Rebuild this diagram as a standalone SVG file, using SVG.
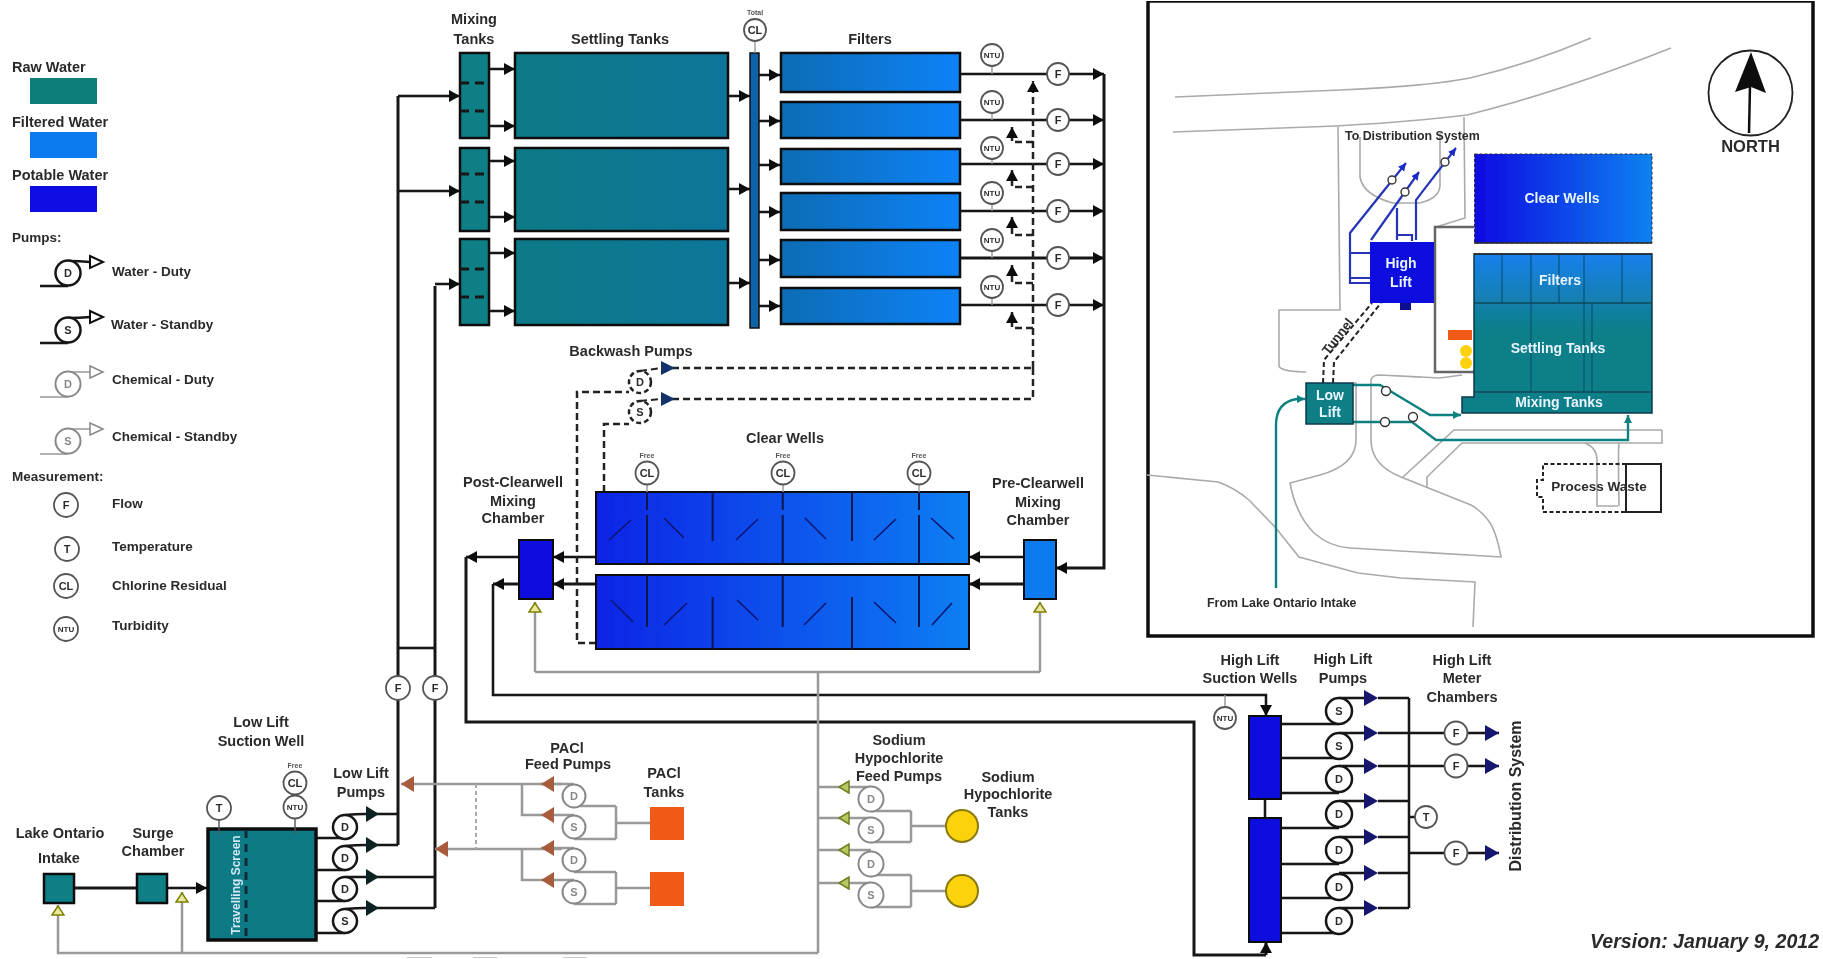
<svg xmlns="http://www.w3.org/2000/svg" width="1823" height="959" viewBox="0 0 1823 959">
<style>
text{font-family:"Liberation Sans",Arial,sans-serif;font-weight:bold;fill:#2c2c2c;font-size:14.5px}
.c{text-anchor:middle}
.s{font-size:13.5px}
.w{fill:#e8f4ff;text-anchor:middle;font-size:14px}
.tiny{font-size:7px;text-anchor:middle;fill:#555}
.in{text-anchor:middle;font-size:11px}
.ntu{text-anchor:middle;font-size:8px}
.gin{text-anchor:middle;font-size:11px;fill:#888}
path:not([fill]){fill:none}
.p{stroke:#161616;stroke-width:3}
.p2{stroke:#161616;stroke-width:2.5}
.d{stroke:#222;stroke-width:2.5;stroke-dasharray:7 4}
.g{stroke:#999;stroke-width:2.5}
.gd{stroke:#aaa;stroke-width:2;stroke-dasharray:4 3}
.ak{marker-end:url(#ak)}
.an{marker-end:url(#an)}
.ab{marker-end:url(#ab)}
.agr{marker-end:url(#agr)}
.ay{marker-end:url(#ay)}
.m{fill:#fff;stroke:#555;stroke-width:1.8}
.wp{fill:#fff;stroke:#161616;stroke-width:2.5}
.cp{fill:#fff;stroke:#888;stroke-width:2}
.dp{fill:#fff;stroke:#222;stroke-width:2.5;stroke-dasharray:5 3}
.raw{fill:#0e7f85;stroke:#111;stroke-width:2.5}
.st{fill:url(#gs);stroke:#111;stroke-width:2.5}
.fi{fill:url(#gf);stroke:#111;stroke-width:2.5}
.cw{fill:url(#gc);stroke:#111;stroke-width:2}
.pot{fill:#0a0ade;stroke:#111;stroke-width:2}
.road{stroke:#aaa;stroke-width:1.6}
.teal{stroke:#118080;stroke-width:2.4}
.blu{stroke:#2536b8;stroke-width:2.2}
.or{fill:#f05a14}
.ye{fill:#fcd20c;stroke:#8a7a10;stroke-width:2}
</style>
<defs>
<linearGradient id="gs" x1="0" x2="1" y1="0" y2="0"><stop offset="0" stop-color="#0d7a86"/><stop offset="1" stop-color="#08759a"/></linearGradient>
<linearGradient id="gf" x1="0" x2="1" y1="0" y2="0"><stop offset="0" stop-color="#0a6cb4"/><stop offset="1" stop-color="#0a82f8"/></linearGradient>
<linearGradient id="gc" gradientUnits="userSpaceOnUse" x1="596" x2="969" y1="0" y2="0"><stop offset="0" stop-color="#0a24e6"/><stop offset="1" stop-color="#0a7ff2"/></linearGradient>
<linearGradient id="gic" x1="0" x2="1" y1="0" y2="0"><stop offset="0" stop-color="#0a0ae2"/><stop offset="1" stop-color="#0a82f0"/></linearGradient>
<linearGradient id="git" gradientUnits="userSpaceOnUse" x1="0" x2="0" y1="254" y2="330"><stop offset="0" stop-color="#1a80ee"/><stop offset="1" stop-color="#0e7f88"/></linearGradient>
<marker id="ak" markerUnits="userSpaceOnUse" viewBox="0 0 11 12" refX="11" refY="6" markerWidth="11" markerHeight="12" orient="auto"><path d="M0 0L11 6L0 12Z" fill="#111"/></marker>
<marker id="an" markerUnits="userSpaceOnUse" viewBox="0 0 14 16" refX="14" refY="8" markerWidth="14" markerHeight="16" orient="auto"><path d="M0 0L14 8L0 16Z" fill="#14146e"/></marker>
<marker id="ab" markerUnits="userSpaceOnUse" viewBox="0 0 13 16" refX="13" refY="8" markerWidth="13" markerHeight="16" orient="auto"><path d="M0 0L13 8L0 16Z" fill="#a85c3c"/></marker>
<marker id="agr" markerUnits="userSpaceOnUse" viewBox="0 0 12 14" refX="12" refY="7" markerWidth="12" markerHeight="14" orient="auto"><path d="M1 1L11 7L1 13Z" fill="#b9c860" stroke="#6a7f20" stroke-width="1.5"/></marker>
<marker id="ay" markerUnits="userSpaceOnUse" viewBox="0 0 11 14" refX="11" refY="7" markerWidth="11" markerHeight="14" orient="auto"><path d="M1 1L10 7L1 13Z" fill="#e8e8a0" stroke="#808000" stroke-width="1.5"/></marker>
<marker id="at" markerUnits="userSpaceOnUse" viewBox="0 0 8 8" refX="8" refY="4" markerWidth="8" markerHeight="8" orient="auto"><path d="M0 0L8 4L0 8Z" fill="#118080"/></marker>
<marker id="au" markerUnits="userSpaceOnUse" viewBox="0 0 8 8" refX="8" refY="4" markerWidth="8" markerHeight="8" orient="auto"><path d="M0 0L8 4L0 8Z" fill="#1a2ac8"/></marker>
<filter id="soft" x="0" y="0" width="100%" height="100%"><feGaussianBlur stdDeviation="0.7"/></filter>
</defs>
<rect width="1823" height="959" fill="#fff"/>
<g filter="url(#soft)">
<g id="legend">
<text x="12" y="72">Raw Water</text><rect x="30" y="78" width="67" height="26" fill="#0e7f78"/>
<text x="12" y="127">Filtered Water</text><rect x="30" y="132" width="67" height="26" fill="#0a7af0"/>
<text x="12" y="180">Potable Water</text><rect x="30" y="186" width="67" height="26" fill="#0808e4"/>
<text x="12" y="242" class="s">Pumps:</text>
<g id="legend-water-duty"><path class="p2" d="M40 286H68M68 261Q80 261 90 262"/><circle class="wp" cx="68" cy="273" r="12.5"/><text class="in" x="68" y="277">D</text><path d="M90 256L103 262L90 268Z" fill="#fff" stroke="#111" stroke-width="2"/><text class="s" x="112" y="276">Water - Duty</text></g>
<g id="legend-water-standby"><path class="p2" d="M40 343H68M68 318Q80 318 90 317"/><circle class="wp" cx="68" cy="330" r="12.5"/><text class="in" x="68" y="334">S</text><path d="M90 311L103 317L90 323Z" fill="#fff" stroke="#111" stroke-width="2"/><text class="s" x="111" y="329">Water - Standby</text></g>
<g id="legend-chem-duty"><path class="g" style="stroke-width:1.6" d="M40 397H68M68 372Q80 372 90 372"/><circle class="cp" cx="68" cy="384" r="12.5"/><text class="gin" x="68" y="388">D</text><path d="M90 366L103 372L90 378Z" fill="#fff" stroke="#888" stroke-width="1.5"/><text class="s" x="112" y="384">Chemical - Duty</text></g>
<g id="legend-chem-standby"><path class="g" style="stroke-width:1.6" d="M40 454H68M68 429Q80 429 90 429"/><circle class="cp" cx="68" cy="441" r="12.5"/><text class="gin" x="68" y="445">S</text><path d="M90 423L103 429L90 435Z" fill="#fff" stroke="#888" stroke-width="1.5"/><text class="s" x="112" y="441">Chemical - Standby</text></g>
<text x="12" y="481" class="s">Measurement:</text>
<g id="legend-flow"><circle class="m" cx="66" cy="505" r="12"/><text class="in" x="66" y="509">F</text><text class="s" x="112" y="508">Flow</text></g>
<g id="legend-temp"><circle class="m" cx="67" cy="549" r="12"/><text class="in" x="67" y="553">T</text><text class="s" x="112" y="551">Temperature</text></g>
<g id="legend-cl"><circle class="m" cx="66" cy="586" r="12"/><text class="in" x="66" y="590">CL</text><text class="s" x="112" y="590">Chlorine Residual</text></g>
<g id="legend-ntu"><circle class="m" cx="66" cy="629" r="12"/><text class="ntu" x="66" y="632">NTU</text><text class="s" x="112" y="630">Turbidity</text></g>
</g>

<g id="connectors">
<path class="p" d="M398 845V96"/><path class="p" d="M435 908V286"/><path class="p2" d="M398 648H435"/>
<path class="p2 ak" d="M398 96H460"/><path class="p2 ak" d="M398 191H460"/><path class="p2 ak" d="M435 284H460"/>
<path class="p2 ak" d="M489 69H515"/><path class="p2 ak" d="M489 126H515"/><path class="p2 ak" d="M489 161H515"/><path class="p2 ak" d="M489 217H515"/><path class="p2 ak" d="M489 253H515"/><path class="p2 ak" d="M489 311H515"/>
<path class="p2 ak" d="M728 96H750"/><path class="p2 ak" d="M728 189H750"/><path class="p2 ak" d="M728 283H750"/>
<path class="p2 ak" d="M759 75H780"/><path class="p2 ak" d="M759 121H780"/><path class="p2 ak" d="M759 165H780"/><path class="p2 ak" d="M759 212H780"/><path class="p2 ak" d="M759 260H780"/><path class="p2 ak" d="M759 306H780"/>
<path class="p2 ak" d="M960 74H1104"/><path class="p2 ak" d="M960 120H1104"/><path class="p2 ak" d="M960 164H1104"/><path class="p2 ak" d="M960 211H1104"/><path class="p ak" d="M960 258H1104"/><path class="p2 ak" d="M960 305H1104"/>
<path class="p ak" d="M1104 74V568H1056"/>
<path class="p2 ak" d="M1024 557H969"/><path class="p ak" d="M1024 584H969"/>
<path class="p2 ak" d="M596 557H553"/><path class="p ak" d="M596 584H553"/>
<path class="p2 ak" d="M519 557H466"/><path class="p ak" d="M519 584H493"/>
<path class="p" d="M466 557V722H1194V955H1266"/><path class="p ak" d="M1266 955V942"/>
<path class="p2 ak" d="M493 584V695H1266V716"/>
<path class="d ak" d="M1033 368V81"/>
<path class="d" d="M672 368H1033M672 399H1033V368"/>
<path class="d" d="M596 643H577V392H629"/><path class="d" d="M604 492V424H629"/>
<path class="d ak" d="M1033 142H1012V127"/><path class="d ak" d="M1033 187H1012V170"/><path class="d ak" d="M1033 235H1012V217"/><path class="d ak" d="M1033 283H1012V265"/><path class="d ak" d="M1033 328H1012V312"/>
<path class="g" d="M818 953V672M535 672H1040"/>
<path class="g ay" d="M535 672V602"/><path class="g ay" d="M1040 672V602"/>
<path class="g ay" d="M818 953H58V905"/><path class="g ay" d="M182 953V892"/>
<path class="g ab" d="M562 784H401"/><path class="g ab" d="M562 849H435"/>
<path class="gd" d="M476 784V849"/>
<path class="g" d="M522 784V815H541M522 849V880H541"/>
<path class="g ab" d="M574 784H541"/><path class="g ab" d="M574 815H541"/><path class="g ab" d="M574 848H541"/><path class="g ab" d="M574 880H541"/>
<path class="g" d="M574 806H616M574 839H616M574 872H616M574 904H616M616 806V839M616 872V904M616 823H650M616 888H650"/>
<path class="g" d="M838 787H818M838 818H818M838 850H818M838 883H818"/>
<path class="g agr" d="M871 787H838"/><path class="g agr" d="M871 818H838"/><path class="g agr" d="M871 850H838"/><path class="g agr" d="M871 883H838"/>
<path class="g" d="M871 811H911M871 842H911M871 875H911M871 907H911M911 811V842M911 875V907M911 826H947M911 891H947"/>
<path class="p" d="M74 888H137"/><path class="p2 ak" d="M167 888H207"/>
<path class="p2" d="M316 838H345M316 870H345M316 901H345M316 933H345M366 814H398M366 845H398M366 877H435M366 908H435"/>
<path class="p2" d="M1265 799V818"/>
<path class="p2" d="M1281 724H1339M1281 758H1339M1281 793H1339M1281 828H1339M1281 864H1339M1281 898H1339M1281 933H1339"/>
<path class="p2" d="M1378 698H1409M1378 733H1445M1378 766H1445M1378 801H1409M1378 837H1409M1378 873H1409M1378 908H1409M1409 698V908M1409 853H1445"/>
<path class="p2 an" d="M1467 733H1499"/><path class="p2 an" d="M1467 766H1499"/><path class="p2 an" d="M1467 853H1499"/>
<path class="p2" d="M1409 817H1415"/>
<path class="g" style="stroke-width:1.5" d="M1225 695V707"/>
</g>

<g id="mixing-tanks">
<rect class="raw" x="460" y="53" width="29" height="85"/><rect class="raw" x="460" y="148" width="29" height="83"/><rect class="raw" x="460" y="239" width="29" height="86"/>
<path class="p" stroke-dasharray="9 6" d="M460 83H489M460 111H489M460 174H489M460 202H489M460 269H489M460 297H489"/>
<text class="c" x="474" y="24">Mixing</text><text class="c" x="474" y="44">Tanks</text>
</g>
<g id="settling-tanks">
<rect class="st" x="515" y="53" width="213" height="85"/><rect class="st" x="515" y="148" width="213" height="83"/><rect class="st" x="515" y="239" width="213" height="86"/>
<text class="c" x="620" y="44">Settling Tanks</text>
</g>
<g id="channel"><rect x="750" y="53" width="9" height="275" fill="#0b62a8" stroke="#111" stroke-width="1.5"/>
<path class="g" style="stroke-width:1.4" d="M755 42V53"/><circle class="m" cx="755" cy="30" r="11"/><text class="in" x="755" y="34">CL</text><text class="tiny" x="755" y="15">Total</text></g>
<g id="filters">
<rect class="fi" x="781" y="53" width="179" height="39"/><rect class="fi" x="781" y="102" width="179" height="36"/><rect class="fi" x="781" y="149" width="179" height="35"/><rect class="fi" x="781" y="193" width="179" height="37"/><rect class="fi" x="781" y="240" width="179" height="37"/><rect class="fi" x="781" y="288" width="179" height="36"/>
<text class="c" x="870" y="44">Filters</text>
</g>
<g id="filter-instruments">
<path class="g" style="stroke-width:1.4" d="M992 66V74M992 113V120M992 159V164M992 204V211M992 251V258M992 298V305"/>
<g id="ntu1"><circle class="m" cx="992" cy="55" r="11"/><text class="ntu" x="992" y="58">NTU</text></g>
<g id="ntu2"><circle class="m" cx="992" cy="102" r="11"/><text class="ntu" x="992" y="105">NTU</text></g>
<g id="ntu3"><circle class="m" cx="992" cy="148" r="11"/><text class="ntu" x="992" y="151">NTU</text></g>
<g id="ntu4"><circle class="m" cx="992" cy="193" r="11"/><text class="ntu" x="992" y="196">NTU</text></g>
<g id="ntu5"><circle class="m" cx="992" cy="240" r="11"/><text class="ntu" x="992" y="243">NTU</text></g>
<g id="ntu6"><circle class="m" cx="992" cy="287" r="11"/><text class="ntu" x="992" y="290">NTU</text></g>
<g id="f1"><circle class="m" cx="1058" cy="74" r="11"/><text class="in" x="1058" y="78">F</text></g>
<g id="f2"><circle class="m" cx="1058" cy="120" r="11"/><text class="in" x="1058" y="124">F</text></g>
<g id="f3"><circle class="m" cx="1058" cy="164" r="11"/><text class="in" x="1058" y="168">F</text></g>
<g id="f4"><circle class="m" cx="1058" cy="211" r="11"/><text class="in" x="1058" y="215">F</text></g>
<g id="f5"><circle class="m" cx="1058" cy="258" r="11"/><text class="in" x="1058" y="262">F</text></g>
<g id="f6"><circle class="m" cx="1058" cy="305" r="11"/><text class="in" x="1058" y="309">F</text></g>
</g>
<g id="backwash-pumps">
<text class="c" x="631" y="356">Backwash Pumps</text>
<circle class="dp" cx="640" cy="382" r="11"/><text class="in" x="640" y="386">D</text>
<circle class="dp" cx="640" cy="412" r="11"/><text class="in" x="640" y="416">S</text>
<path class="d" style="stroke-width:2" d="M640 371L661 368M640 401L661 399"/>
<path d="M661 361L675 368L661 375Z" fill="#12336b"/><path d="M661 392L675 399L661 406Z" fill="#12336b"/>
</g>
<g id="clear-wells">
<rect class="cw" x="596" y="492" width="373" height="72"/><rect class="cw" x="596" y="575" width="373" height="74"/>
<path style="stroke:#0a1250;stroke-width:2" d="M647 492V510M647 515V564M712.6 492V541M782.7 492V510M782.7 515V564M852 492V541M919 492V510M919 515V564M647 575V627M712.6 597V649M782.7 575V627M852 597V649M919 575V627"/>
<path style="stroke:#0a1270;stroke-width:1.6" d="M631 520L609 540M664 518L684 538M758 519L736 540M805 518L826 539M896 519L874 540M931 518L954 539M611 600L633 622M687 603L664 625M737 600L758 620M826 603L804 625M874 602L896 623M952 603L932 625"/>
<text class="c" x="785" y="443">Clear Wells</text>
<path class="g" style="stroke-width:1.4" d="M647 485V492M783 485V492M919 485V492"/>
<g id="cl-free-1"><circle class="m" cx="647" cy="473" r="11.5"/><text class="in" x="647" y="477">CL</text><text class="tiny" x="647" y="458">Free</text></g>
<g id="cl-free-2"><circle class="m" cx="783" cy="473" r="11.5"/><text class="in" x="783" y="477">CL</text><text class="tiny" x="783" y="458">Free</text></g>
<g id="cl-free-3"><circle class="m" cx="919" cy="473" r="11.5"/><text class="in" x="919" y="477">CL</text><text class="tiny" x="919" y="458">Free</text></g>
</g>
<g id="post-clearwell"><rect class="pot" x="519" y="540" width="34" height="59"/>
<text class="c" x="513" y="487">Post-Clearwell</text><text class="c" x="513" y="506">Mixing</text><text class="c" x="513" y="523">Chamber</text></g>
<g id="pre-clearwell"><rect x="1024" y="540" width="32" height="59" fill="#0a7aef" stroke="#111" stroke-width="2"/>
<text class="c" x="1038" y="488">Pre-Clearwell</text><text class="c" x="1038" y="507">Mixing</text><text class="c" x="1038" y="525">Chamber</text></g>

<g id="intake-node"><rect class="raw" x="44" y="874" width="30" height="29"/><text class="c" x="60" y="838">Lake Ontario</text><text class="c" x="59" y="863">Intake</text></g>
<g id="surge-chamber"><rect class="raw" x="137" y="874" width="30" height="29"/><text class="c" x="153" y="838">Surge</text><text class="c" x="153" y="856">Chamber</text></g>
<g id="low-lift-well">
<rect x="208" y="829" width="108" height="111" fill="#0c7a85" stroke="#111" stroke-width="3.5"/>
<path class="p" stroke-dasharray="8 6" style="stroke:#0a2a3a" d="M246 830V939"/>
<text transform="translate(240 885) rotate(-90)" text-anchor="middle" style="fill:#cfe8f5;font-size:12px">Travelling Screen</text>
<text class="c" x="261" y="727">Low Lift</text><text class="c" x="261" y="746">Suction Well</text>
<path style="stroke-width:1.4;stroke:#555" d="M219 820V834M295 818V834"/>
<g id="t-well"><circle class="m" cx="219" cy="808" r="12"/><text class="in" x="219" y="812">T</text></g>
<g id="cl-well"><circle class="m" cx="295" cy="783" r="11.5"/><text class="in" x="295" y="787">CL</text><text class="tiny" x="295" y="768">Free</text></g>
<g id="ntu-well"><circle class="m" cx="295" cy="807" r="11.5"/><text class="ntu" x="295" y="810">NTU</text></g>
</g>
<g id="low-lift-pumps">
<text class="c" x="361" y="778">Low Lift</text><text class="c" x="361" y="797">Pumps</text>
<path class="p2" d="M345 815Q356 814 366 814M345 846Q356 845 366 845M345 877Q356 877 366 877M345 909Q356 908 366 908"/>
<circle class="wp" cx="345" cy="827" r="12"/><text class="in" x="345" y="831">D</text>
<circle class="wp" cx="345" cy="858" r="12"/><text class="in" x="345" y="862">D</text>
<circle class="wp" cx="345" cy="889" r="12"/><text class="in" x="345" y="893">D</text>
<circle class="wp" cx="345" cy="921" r="12"/><text class="in" x="345" y="925">S</text>
<path fill="#122" d="M366 806L379 814L366 822ZM366 837L379 845L366 853ZM366 869L379 877L366 885ZM366 900L379 908L366 916Z"/>
</g>
<g id="raw-flow-meters">
<circle class="m" cx="398" cy="688" r="12"/><text class="in" x="398" y="692">F</text>
<circle class="m" cx="435" cy="688" r="12"/><text class="in" x="435" y="692">F</text>
</g>
<g id="pacl-pumps">
<text class="c" x="567" y="753">PACl</text><text class="c" x="568" y="769">Feed Pumps</text>
<circle class="cp" cx="574" cy="796" r="11.5"/><text class="gin" x="574" y="800">D</text>
<circle class="cp" cx="574" cy="827" r="11.5"/><text class="gin" x="574" y="831">S</text>
<circle class="cp" cx="574" cy="860" r="11.5"/><text class="gin" x="574" y="864">D</text>
<circle class="cp" cx="574" cy="892" r="11.5"/><text class="gin" x="574" y="896">S</text>
</g>
<g id="pacl-tanks"><rect class="or" x="650" y="807" width="34" height="33"/><rect class="or" x="650" y="872" width="34" height="34"/>
<text class="c" x="664" y="778">PACl</text><text class="c" x="664" y="797">Tanks</text></g>
<g id="hypo-pumps">
<text class="c" x="899" y="745">Sodium</text><text class="c" x="899" y="763">Hypochlorite</text><text class="c" x="899" y="781">Feed Pumps</text>
<circle class="cp" cx="871" cy="799" r="12.5"/><text class="gin" x="871" y="803">D</text>
<circle class="cp" cx="871" cy="830" r="12.5"/><text class="gin" x="871" y="834">S</text>
<circle class="cp" cx="871" cy="864" r="12.5"/><text class="gin" x="871" y="868">D</text>
<circle class="cp" cx="871" cy="895" r="12.5"/><text class="gin" x="871" y="899">S</text>
</g>
<g id="hypo-tanks"><circle class="ye" cx="962" cy="826" r="16"/><circle class="ye" cx="962" cy="891" r="16"/>
<text class="c" x="1008" y="782">Sodium</text><text class="c" x="1008" y="799">Hypochlorite</text><text class="c" x="1008" y="817">Tanks</text></g>
<g id="high-lift-wells">
<rect class="pot" x="1249" y="716" width="32" height="83"/><rect class="pot" x="1249" y="818" width="32" height="124"/>
<text class="c" x="1250" y="665">High Lift</text><text class="c" x="1250" y="683">Suction Wells</text>
<g id="ntu-hl"><circle class="m" cx="1225" cy="718" r="11"/><text class="ntu" x="1225" y="721">NTU</text></g>
</g>
<g id="high-lift-pumps">
<text class="c" x="1343" y="664">High Lift</text><text class="c" x="1343" y="683">Pumps</text>
<path class="p2" d="M1339 698H1364M1339 733H1364M1339 766H1364M1339 801H1364M1339 837H1364M1339 873H1364M1339 908H1364"/>
<circle class="wp" cx="1339" cy="711" r="13"/><text class="in" x="1339" y="715">S</text>
<circle class="wp" cx="1339" cy="746" r="13"/><text class="in" x="1339" y="750">S</text>
<circle class="wp" cx="1339" cy="779" r="13"/><text class="in" x="1339" y="783">D</text>
<circle class="wp" cx="1339" cy="814" r="13"/><text class="in" x="1339" y="818">D</text>
<circle class="wp" cx="1339" cy="850" r="13"/><text class="in" x="1339" y="854">D</text>
<circle class="wp" cx="1339" cy="887" r="13"/><text class="in" x="1339" y="891">D</text>
<circle class="wp" cx="1339" cy="921" r="13"/><text class="in" x="1339" y="925">D</text>
<path fill="#14146e" d="M1364 690L1378 698L1364 706ZM1364 725L1378 733L1364 741ZM1364 758L1378 766L1364 774ZM1364 793L1378 801L1364 809ZM1364 829L1378 837L1364 845ZM1364 865L1378 873L1364 881ZM1364 900L1378 908L1364 916Z"/>
</g>
<g id="meter-chambers">
<text class="c" x="1462" y="665">High Lift</text><text class="c" x="1462" y="683">Meter</text><text class="c" x="1462" y="702">Chambers</text>
<circle class="m" cx="1456" cy="733" r="11.5"/><text class="in" x="1456" y="737">F</text>
<circle class="m" cx="1456" cy="766" r="11.5"/><text class="in" x="1456" y="770">F</text>
<circle class="m" cx="1456" cy="853" r="11.5"/><text class="in" x="1456" y="857">F</text>
<circle class="m" cx="1426" cy="817" r="11"/><text class="in" x="1426" y="821">T</text>
</g>
<text transform="translate(1521 796) rotate(-90)" text-anchor="middle" style="font-size:16px">Distribution System</text>
<text x="1590" y="948" style="font-size:19.6px;font-style:italic">Version: January 9, 2012</text>
<path stroke="#bbb" stroke-width="1.5" d="M407 958H432M473 958H497M563 958H587"/>

<g id="site-plan">
<rect x="1148" y="1" width="665" height="635" fill="#fff" stroke="#111" stroke-width="3.5"/>
<g id="roads">
<path class="road" d="M1175 97L1340 90Q1430 86 1470 78Q1530 64 1591 38"/>
<path class="road" d="M1173 132L1336 126Q1410 122 1467 115Q1560 92 1671 48"/>
<path class="road" d="M1338 127L1340 310H1279V366Q1280 371 1303 372H1306"/>
<path class="road" d="M1464 117L1465 218L1436 227"/>
<path class="road" d="M1360 137V177Q1363 195 1393 203H1420Q1440 198 1440 185V133"/>
<path class="road" d="M1353 383H1356V440Q1356 465 1320 475L1290 483Q1296 515 1314 533Q1330 547 1350 548L1501 557Q1496 530 1488 520Q1480 510 1471 505L1401 477Q1371 465 1371 440V380Q1372 375 1380 375L1440 378L1462 375"/>
<path class="road" d="M1147 475L1218 482Q1235 488 1249 500L1275 527L1299 557L1358 573L1401 578L1475 582L1473 627"/>
<path class="road" d="M1662 430H1454L1403 477M1662 430V443H1462L1427 477V488"/>
<path class="road" d="M1585 443Q1597 448 1597 460V506H1618M1619 443Q1618 448 1619 506"/>
</g>
<g id="inset-building"><path stroke="#666" stroke-width="2.5" fill="#fff" d="M1474 227H1435V372H1474"/>
<rect class="or" x="1448" y="330" width="24" height="10"/><circle class="ye" style="stroke-width:0" cx="1466" cy="351" r="6"/><circle class="ye" style="stroke-width:0" cx="1466" cy="363" r="6"/></g>
<g id="inset-clear"><rect x="1474.5" y="154" width="177.5" height="89" fill="url(#gic)" stroke="#333" stroke-width="1" stroke-dasharray="3 2"/>
<path stroke="#1a55b0" stroke-width="1" d="M1584 154V243"/>
<text class="w" x="1562" y="203">Clear Wells</text></g>
<g id="inset-treatment"><path d="M1474 254H1652V413H1462V397H1474Z" fill="url(#git)" stroke="#0a3a4a" stroke-width="1.5"/>
<path stroke="#0a4a5a" stroke-width="1.5" d="M1474 303H1652M1474 392H1652"/>
<path stroke="#0a4a6a" stroke-width="1" d="M1502 254V303M1531 254V392M1559 254V303M1584 254V392M1622 254V303M1592 303V392"/>
<path stroke="#2a2a2a" stroke-width="1.5" d="M1474 243H1652M1474 254H1652"/>
<text class="w" x="1560" y="285">Filters</text><text class="w" x="1558" y="353">Settling Tanks</text><text class="w" x="1559" y="407">Mixing Tanks</text></g>
<g id="inset-connectors">
<path class="teal" style="marker-end:url(#at)" d="M1276 588V425Q1276 402 1297 399H1305"/>
<path class="teal" style="marker-end:url(#at)" d="M1353 385H1380L1430 415H1461"/>
<path class="teal" style="marker-end:url(#at)" d="M1353 422H1412L1436 440H1628V415"/>
<path class="blu" style="marker-end:url(#au)" d="M1370 283H1350V233L1406 163"/>
<path class="blu" style="marker-end:url(#au)" d="M1371 240L1419 172"/>
<path class="blu" style="marker-end:url(#au)" d="M1416 240V200L1456 148"/>
<path class="blu" d="M1350 253H1370M1350 278H1370M1397 240V208M1397 235H1412V241"/>
<path stroke="#222" stroke-width="2" stroke-dasharray="5 3" d="M1323 383L1324 360L1372 303M1333 383L1334 362L1381 303"/>
</g>
<g id="inset-markers" fill="#fff" stroke="#333" stroke-width="1.4">
<circle cx="1386" cy="391" r="4.5"/><circle cx="1385" cy="422" r="4.5"/><circle cx="1413" cy="417" r="4.5"/>
<circle cx="1392" cy="180" r="4"/><circle cx="1405" cy="192" r="4"/><circle cx="1445" cy="162" r="4"/>
</g>
<g id="inset-high-lift"><rect x="1370" y="242" width="64" height="61" fill="#0a0ade"/><rect x="1400" y="303" width="11" height="7" fill="#0a0a90"/>
<text class="w" x="1401" y="268">High</text><text class="w" x="1401" y="287">Lift</text></g>
<g id="inset-low-lift"><rect x="1306" y="383" width="47" height="41" fill="#0e7f85" stroke="#0a3a4a" stroke-width="1.5"/>
<text class="w" x="1330" y="400">Low</text><text class="w" x="1330" y="417">Lift</text></g>
<text transform="translate(1341 339) rotate(-52)" text-anchor="middle" style="font-size:13px">Tunnel</text>
<text x="1345" y="140" style="font-size:12.4px">To Distribution System</text>
<text x="1207" y="607" style="font-size:12.4px">From Lake Ontario Intake</text>
<g id="inset-waste"><path stroke="#222" stroke-width="2" stroke-dasharray="4 2.5" d="M1626 464H1543V480H1537V497H1543V512H1626"/>
<rect x="1626" y="464" width="35" height="48" fill="none" stroke="#222" stroke-width="2"/>
<text class="c" x="1599" y="491" style="font-size:13.5px">Process Waste</text></g>
<g id="north"><ellipse cx="1750.5" cy="93" rx="42" ry="42.5" fill="#fff" stroke="#222" stroke-width="1.8"/>
<path stroke="#111" stroke-width="2.5" d="M1749 133L1750 85"/><path d="M1751 52L1766 93L1751 87L1735 92Z" fill="#111"/>
<text class="c" x="1750.5" y="152" style="font-size:16.5px">NORTH</text></g>
</g>
</g>
</svg>
